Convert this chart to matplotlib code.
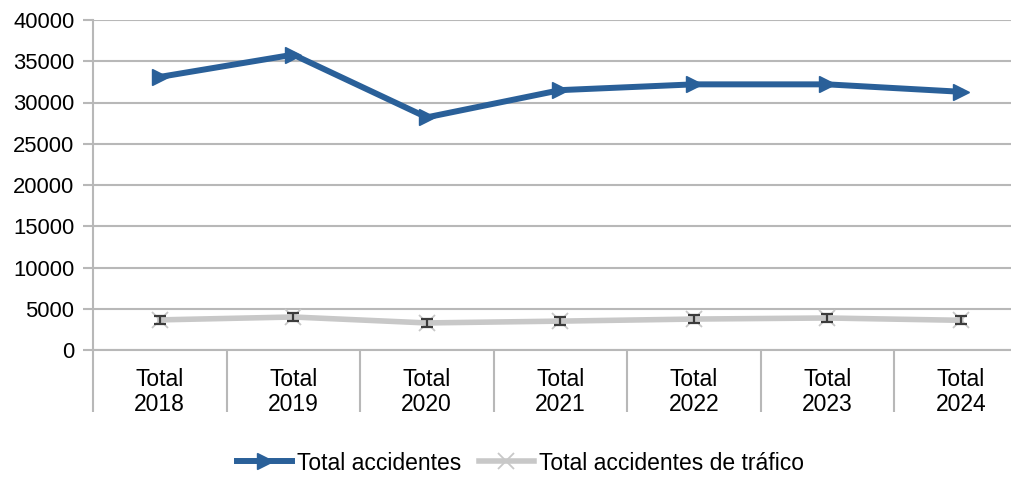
import matplotlib
matplotlib.use("Agg")
import matplotlib.pyplot as plt
from matplotlib.path import Path
import numpy as np

categories = ["Total\n2018", "Total\n2019", "Total\n2020", "Total\n2021", "Total\n2022", "Total\n2023", "Total\n2024"]
total_accidentes = [33100, 35800, 28200, 31500, 32200, 32200, 31300]
total_trafico = [3650, 4000, 3280, 3500, 3750, 3880, 3600]
yticks = [0, 5000, 10000, 15000, 20000, 25000, 30000, 35000, 40000]

plt.rcParams['font.family'] = ['Liberation Sans', 'DejaVu Sans']
plt.rcParams['font.size'] = 16

W, H = 1011, 478
fig = plt.figure(figsize=(W / 100, H / 100), dpi=100)
left, right, top, bottom = 93, 1027.5, 20, 350
ax = fig.add_axes([left / W, (H - bottom) / H, (right - left) / W, (bottom - top) / H])

x = np.arange(len(categories))
blue = "#2a6099"
gray = "#c8c8c8"
grid = "#b8b8b8"

ax.plot(x, total_accidentes, color=blue, lw=4.3, marker=">", markersize=11,
        markeredgecolor=blue, markerfacecolor=blue, solid_joinstyle="miter",
        label="Total accidentes", zorder=4, clip_on=False)
ax.plot(x, total_trafico, color=gray, lw=4.0, marker="x", markersize=11,
        markeredgewidth=1.3, markeredgecolor=gray, label="Total accidentes de tráfico",
        zorder=3, clip_on=False)
ibeam = Path([(-1, 0.6), (1, 0.6), (0, 0.6), (0, -0.6), (-1, -0.6), (1, -0.6)],
             [Path.MOVETO, Path.LINETO, Path.MOVETO, Path.LINETO, Path.MOVETO, Path.LINETO])
ax.plot(x, total_trafico, linestyle="none", marker=ibeam, markersize=9,
        markeredgewidth=1.6, markeredgecolor="#3c3c3c", markerfacecolor="none", zorder=5)

ax.set_ylim(0, 40000)
ax.set_yticks(yticks)
ax.set_yticklabels([str(v) for v in yticks], fontsize=15.8)
ax.set_xlim(-0.5, len(categories) - 0.5)

ax.set_xticks(np.arange(-0.5, len(categories), 1.0))
ax.set_xticklabels([])
ax.set_xticks(x, minor=True)
ax.set_xticklabels(categories, minor=True, linespacing=1.12, fontsize=16.5)
ax.tick_params(axis="x", which="major", length=44.5, width=1.5, color=grid)
ax.tick_params(axis="x", which="minor", length=0, pad=13)
ax.tick_params(axis="y", length=7.5, width=1.5, color=grid, pad=6)

ax.yaxis.grid(True, color=grid, lw=1.5)
ax.set_axisbelow(True)
for s in ["top", "right"]:
    ax.spines[s].set_visible(False)
for s in ["left", "bottom"]:
    ax.spines[s].set_color(grid)
    ax.spines[s].set_linewidth(1.5)

fig.legend(loc="center", bbox_to_anchor=(0.515, (H - 463) / H), ncol=2, frameon=False,
           handlelength=2.4, columnspacing=0.75, handletextpad=0.22, fontsize=16.5)

fig.savefig("out.png", dpi=100)
